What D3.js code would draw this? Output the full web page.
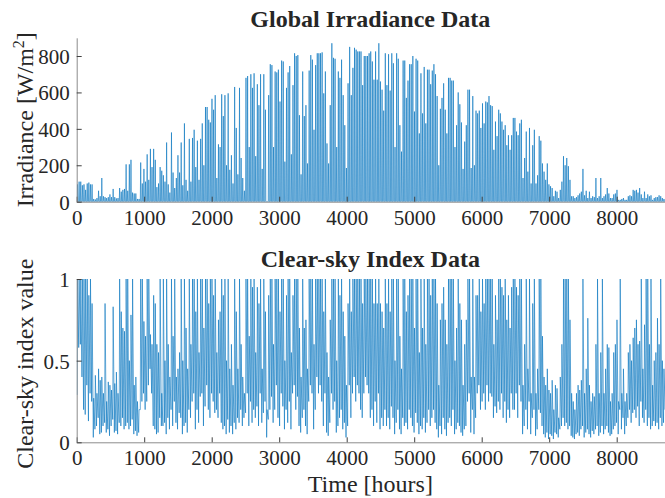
<!DOCTYPE html>
<html>
<head>
<meta charset="utf-8">
<script src="https://cdn.jsdelivr.net/npm/d3@7"></script>
<style>
  html, body { margin: 0; padding: 0; background: #fff; }
  svg { display: block; }
  text { font-family: "Liberation Serif", "Times New Roman", serif; fill: #262626; }
</style>
</head>
<body>
<svg id="chart" width="665" height="498"></svg>
<script>
// Hourly axis of one year
const hoursInYear = 8760;
const xTicks = [0, 1000, 2000, 3000, 4000, 5000, 6000, 7000, 8000];
const irrTicks = [0, 200, 400, 600, 800];
const ktTicks = [0, 0.5, 1];
const ktTickLabels = ["0", "0.5", "1"];

// Hour-of-day of sunrise, solar noon and sunset used for each daily profile
const sunHours = [6, 12, 18];

// Daily peak global irradiance [W/m^2], day 0 .. 364
const dailyPeak = [
  95,110,110,90,95,65,100,105,95,95,
  15,12,20,60,30,130,30,25,20,25,
  40,25,70,25,18,20,75,55,65,70,
  205,60,205,230,50,45,45,15,15,215,
  100,180,110,260,120,290,190,290,230,80,
  100,190,170,145,110,325,95,50,380,160,
  75,130,255,160,325,90,430,120,60,345,
  110,350,395,190,335,120,345,430,200,520,
  520,450,435,565,505,585,130,315,300,590,
  470,585,200,595,175,255,100,630,405,150,
  625,240,130,60,680,690,300,700,625,705,
  250,645,530,700,180,700,505,0,585,755,
  750,300,715,710,725,550,775,770,220,625,
  710,745,260,640,815,800,805,475,150,715,
  470,530,210,720,805,780,395,750,815,815,
  815,820,595,715,320,210,530,870,790,785,
  300,715,680,780,585,420,185,650,850,585,
  735,845,835,825,825,825,640,800,800,800,
  815,825,770,670,825,670,870,660,615,500,
  815,640,810,610,815,760,300,815,785,420,
  275,775,775,570,665,755,755,800,495,785,
  775,375,705,485,740,430,725,725,645,720,
  755,700,580,200,510,570,650,505,375,680,
  680,665,665,300,420,600,535,435,180,330,
  420,615,615,185,580,200,500,485,500,405,
  540,430,550,545,580,530,525,285,440,360,
  505,485,440,395,420,310,365,285,365,460,
  460,385,365,430,450,130,240,385,165,405,
  100,310,395,100,145,360,335,210,165,120,
  210,95,85,75,30,60,55,20,65,110,
  250,200,240,195,120,30,30,20,25,35,
  45,55,180,35,60,20,55,20,30,25,
  130,20,30,130,20,30,40,75,45,20,
  20,40,45,65,10,10,15,20,10,10,
  30,35,30,65,60,65,50,75,40,20,
  55,20,40,30,35,10,20,25,25,35,
  30,20,15,20,15
];

// Daily highest and lowest clear-sky index, day 0 .. 364
const ktHigh = [
  1,1,1,1,1,1,1,0.9,1,0.85,
  0.27,0.41,0.3,0.45,0.38,0.4,0.3,0.85,0.25,0.37,
  0.35,0.32,0.83,0.36,0.43,0.3,1,0.8,0.7,0.68,
  1,1,0.5,0.78,1,0.35,0.4,0.25,0.2,1,
  1,0.74,0.65,1,1,0.66,0.6,0.9,0.85,0.6,
  0.55,1,0.3,1,0.5,1,0.6,0.4,1,0.65,
  1,0.4,0.45,0.55,1,0.5,1,0.7,0.45,1,
  0.6,1,1,0.8,1,0.55,1,1,0.7,1,
  1,0.85,1,1,0.9,1,0.55,0.75,0.8,1,
  0.9,1,0.5,1,0.45,0.6,0.35,1,0.8,0.45,
  1,0.6,0.4,0.3,1,1,0.65,1,0.95,1,
  0.55,0.95,0.85,1,0.45,1,0.8,0.2,0.9,1,
  1,0.6,1,1,1,0.8,1,1,0.5,0.9,
  1,1,0.55,0.9,1,1,1,0.7,0.4,1,
  0.7,0.75,0.45,1,1,1,0.6,1,1,1,
  1,1,0.8,1,0.55,0.4,0.75,1,1,1,
  0.5,1,0.9,1,0.8,0.65,0.35,0.85,1,0.8,
  1,1,1,1,1,1,0.85,1,1,1,
  1,1,1,0.85,1,0.85,1,0.85,0.8,0.7,
  1,0.85,1,0.8,1,1,0.5,1,1,0.65,
  0.45,1,1,0.8,0.9,1,1,1,0.7,1,
  1,0.55,1,0.7,1,0.6,1,1,0.9,1,
  1,1,0.85,0.35,0.75,0.85,0.95,0.75,0.6,1,
  1,1,1,0.5,0.7,1,0.85,0.75,0.35,0.6,
  0.75,1,1,0.4,1,0.4,0.9,0.9,1,0.8,
  1,0.85,1,1,1,1,1,0.6,0.9,0.75,
  1,1,0.95,0.9,1,0.75,0.9,0.7,0.95,1,
  1,0.95,0.9,1,1,0.35,0.6,1,0.45,1,
  0.3,0.85,1,0.3,0.45,1,1,0.65,0.4,0.35,
  0.45,0.32,0.3,0.38,0.2,0.35,0.33,0.15,0.4,0.6,
  1,1,1,1,0.75,0.3,0.25,0.2,0.3,0.35,
  0.32,0.38,1,0.3,0.45,0.76,0.35,0.25,0.3,0.28,
  0.6,1,0.3,0.55,1,0.3,0.45,0.6,0.58,0.25,
  0.3,0.55,0.6,0.75,0.25,1,0.3,0.45,0.25,0.3,
  0.55,0.6,0.5,0.64,0.7,0.75,0.6,0.62,1,0.45,
  0.72,1,1,0.6,1,0.35,0.5,0.55,0.76,0.6,
  1,0.5,0.45,0.6,0.5
];
const ktLow = [
  0.29,0.58,0.6,0.4,0.2,0.17,0.35,0.13,0.3,0.25,
  0.03,0.08,0.1,0.15,0.05,0.06,0.1,0.12,0.06,0.08,
  0.04,0.1,0.14,0.06,0.07,0.05,0.12,0.1,0.15,0.08,
  0.1,0.12,0.08,0.1,0.14,0.05,0.07,0.04,0.06,0.2,
  0.25,0.3,0.2,0.25,0.35,0.45,0.3,0.1,0.08,0.05,
  0.06,0.15,0.1,0.1,0.12,0.05,0.15,0.08,0.2,0.1,
  0.25,0.12,0.08,0.18,0.15,0.05,0.1,0.12,0.06,0.2,
  0.15,0.25,0.3,0.08,0.2,0.12,0.28,0.3,0.1,0.22,
  0.35,0.2,0.15,0.3,0.25,0.18,0.2,0.15,0.3,0.12,
  0.08,0.1,0.05,0.14,0.06,0.1,0.05,0.12,0.08,0.15,
  0.12,0.2,0.1,0.15,0.18,0.3,0.1,0.25,0.12,0.2,
  0.15,0.22,0.1,0.3,0.12,0.18,0.25,0.03,0.14,0.2,
  0.28,0.12,0.2,0.35,0.15,0.1,0.3,0.22,0.08,0.2,
  0.12,0.25,0.08,0.3,0.35,0.2,0.28,0.1,0.06,0.15,
  0.2,0.1,0.05,0.25,0.35,0.3,0.08,0.2,0.4,0.3,
  0.35,0.25,0.1,0.3,0.06,0.04,0.12,0.3,0.2,0.25,
  0.06,0.1,0.15,0.2,0.08,0.12,0.03,0.1,0.35,0.15,
  0.3,0.4,0.25,0.35,0.3,0.2,0.15,0.3,0.4,0.35,
  0.3,0.15,0.2,0.1,0.25,0.12,0.3,0.08,0.15,0.1,
  0.2,0.1,0.15,0.08,0.22,0.15,0.05,0.12,0.2,0.08,
  0.05,0.15,0.1,0.12,0.08,0.2,0.15,0.1,0.06,0.18,
  0.12,0.05,0.1,0.08,0.15,0.06,0.12,0.2,0.1,0.15,
  0.2,0.12,0.08,0.03,0.1,0.05,0.15,0.08,0.04,0.12,
  0.15,0.1,0.2,0.05,0.08,0.12,0.1,0.06,0.04,0.08,
  0.1,0.25,0.3,0.06,0.2,0.05,0.15,0.3,0.35,0.2,
  0.25,0.3,0.2,0.35,0.25,0.3,0.28,0.15,0.22,0.18,
  0.25,0.2,0.3,0.15,0.25,0.12,0.2,0.15,0.3,0.2,
  0.2,0.3,0.15,0.35,0.25,0.05,0.1,0.2,0.08,0.25,
  0.05,0.15,0.2,0.04,0.08,0.2,0.18,0.1,0.05,0.03,
  0.06,0.02,0.05,0.04,0.02,0.06,0.05,0.03,0.08,0.1,
  0.15,0.1,0.12,0.08,0.1,0.04,0.03,0.02,0.05,0.06,
  0.04,0.08,0.1,0.03,0.06,0.08,0.05,0.03,0.07,0.05,
  0.08,0.1,0.04,0.06,0.1,0.05,0.08,0.1,0.06,0.04,
  0.05,0.08,0.1,0.12,0.05,0.2,0.08,0.15,0.05,0.1,
  0.15,0.2,0.12,0.18,0.2,0.15,0.22,0.1,0.25,0.15,
  0.12,0.2,0.1,0.15,0.08,0.1,0.13,0.1,0.12,0.08,
  0.15,0.1,0.12,0.2,0.15
];

const lineColor = "#0072BD";
const axisColor = "#8c8c8c";
const plotLeft = 76.7, plotRight = 668;
const tickFont = 21, labelFont = 24, titleFont = 24;

const svg = d3.select("#chart");

const x = d3.scaleLinear().domain([0, hoursInYear]).range([plotLeft, plotRight]);

// Irradiance series: each day rises from zero at sunrise to its peak at noon and back
const irrPoints = [];
dailyPeak.forEach((p, d) => {
  irrPoints.push([d * 24 + sunHours[0], 0]);
  irrPoints.push([d * 24 + sunHours[1], p]);
  irrPoints.push([d * 24 + sunHours[2], 0]);
});

// Clear-sky index series: daily low then daily high
const ktPoints = [];
ktHigh.forEach((h, d) => {
  ktPoints.push([d * 24 + sunHours[0], ktLow[d]]);
  ktPoints.push([d * 24 + sunHours[1], h]);
});

function drawPanel(cfg) {
  const y = d3.scaleLinear().domain(cfg.domain).range([cfg.bottom, cfg.top]);
  const g = svg.append("g");

  const clipId = "clip-" + cfg.id;
  svg.append("clipPath").attr("id", clipId)
    .append("rect").attr("x", plotLeft).attr("y", cfg.top - 1)
    .attr("width", plotRight - plotLeft).attr("height", cfg.bottom - cfg.top + 1);

  g.append("path")
    .datum(cfg.points)
    .attr("clip-path", `url(#${clipId})`)
    .attr("fill", "none")
    .attr("stroke", lineColor)
    .attr("stroke-width", 0.6)
    .attr("d", d3.line().x(p => x(p[0])).y(p => y(p[1])));

  const xa = g.append("g")
    .attr("transform", `translate(0,${cfg.bottom})`)
    .call(d3.axisBottom(x).tickValues(xTicks).tickFormat(d3.format("d"))
      .tickSizeInner(-5).tickSizeOuter(0).tickPadding(8));
  const ya = g.append("g")
    .attr("transform", `translate(${plotLeft},0)`)
    .call(d3.axisLeft(y).tickValues(cfg.ticks).tickFormat((v, i) => cfg.tickLabels[i])
      .tickSizeInner(-5).tickSizeOuter(0).tickPadding(7));

  [xa, ya].forEach(a => {
    a.select(".domain").attr("stroke", axisColor).attr("stroke-width", 1);
    a.selectAll(".tick line").attr("stroke", "#404040").attr("stroke-width", 1);
    a.selectAll(".tick text")
      .attr("font-family", "Liberation Serif, Times New Roman, serif")
      .attr("font-size", tickFont).attr("fill", "#262626");
  });
  xa.selectAll(".tick text").attr("dy", "0.71em");
  ya.selectAll(".tick text").attr("dy", "0.35em");

  g.append("text")
    .attr("x", (plotLeft + plotRight) / 2 - 2)
    .attr("y", cfg.titleY)
    .attr("text-anchor", "middle")
    .attr("font-size", titleFont)
    .attr("font-weight", "bold")
    .attr("fill", "#000")
    .text(cfg.title);

  return { g, y };
}

const irrPanel = drawPanel({
  id: "irr", domain: [0, 900], top: 37.8, bottom: 201.7, titleY: 27,
  ticks: irrTicks, tickLabels: irrTicks.map(String),
  points: irrPoints, title: "Global Irradiance Data"
});
irrPanel.g.append("text")
  .attr("transform", `translate(33,${(37.8 + 201.7) / 2}) rotate(-90)`)
  .attr("text-anchor", "middle")
  .attr("font-size", labelFont)
  .call(t => {
    t.append("tspan").text("Irradiance [W/m");
    t.append("tspan").attr("dy", -9).attr("font-size", 16).text("2");
    t.append("tspan").attr("dy", 9).text("]");
  });

const ktPanel = drawPanel({
  id: "kt", domain: [0, 1], top: 279, bottom: 442.3, titleY: 267,
  ticks: ktTicks, tickLabels: ktTickLabels,
  points: ktPoints, title: "Clear-sky Index Data"
});
ktPanel.g.append("text")
  .attr("transform", `translate(33,${(279 + 442.3) / 2 + 3}) rotate(-90)`)
  .attr("text-anchor", "middle")
  .attr("font-size", labelFont)
  .text("Clear-sky index value");

ktPanel.g.append("text")
  .attr("x", (plotLeft + plotRight) / 2 - 2)
  .attr("y", 492)
  .attr("text-anchor", "middle")
  .attr("font-size", labelFont)
  .text("Time [hours]");
</script>
</body>
</html>
